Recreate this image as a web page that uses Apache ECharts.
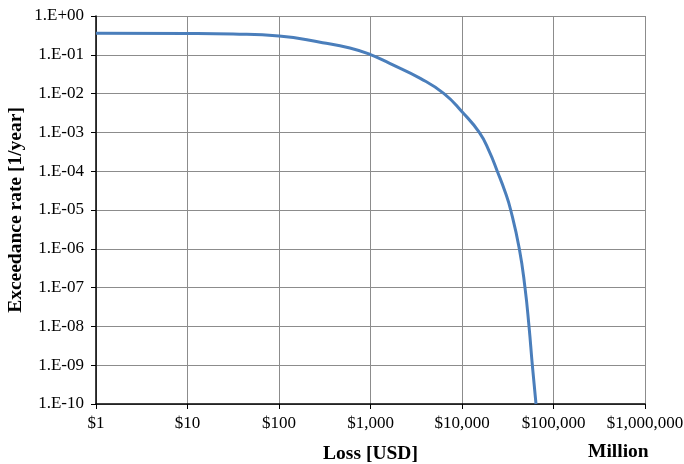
<!DOCTYPE html>
<html>
<head>
<meta charset="utf-8">
<script src="https://cdn.jsdelivr.net/npm/echarts@6/dist/echarts.min.js"></script>
<style>html,body{margin:0;padding:0;background:#fff}#c{width:684px;height:464px}</style>
</head>
<body>
<div id="c"></div>
<script>
var lossUSD = [1, 10, 31.5, 100, 300, 595, 985, 1620, 3500, 6360, 10000, 15450, 19900, 24300, 29500, 34050, 42300, 48800, 54000, 58700, 64400];
var exceedanceRate = [0.358, 0.354, 0.343, 0.305, 0.205, 0.15, 0.103, 0.06, 0.0247, 0.01, 0.0034, 0.001, 3.2e-4, 1e-4, 3e-5, 1e-5, 1e-6, 1e-7, 1e-8, 1e-9, 1e-10];
var xTickLabels = ['$1', '$10', '$100', '$1,000', '$10,000', '$100,000', '$1,000,000'];
var yTickLabels = ['1.E+00', '1.E-01', '1.E-02', '1.E-03', '1.E-04', '1.E-05', '1.E-06', '1.E-07', '1.E-08', '1.E-09', '1.E-10'];

var font = '"Liberation Serif", "Times New Roman", serif';
var chart = echarts.init(document.getElementById('c'));
chart.setOption({
  animation: false,
  grid: { left: 96, right: 39, top: 16, bottom: 60, containLabel: false, outerBoundsMode: 'none' },
  xAxis: {
    type: 'log', logBase: 10, min: 1, max: 1e6, interval: 1, splitNumber: 6,
    name: 'Loss [USD]', nameLocation: 'middle', nameGap: 40, nameMoveOverlap: false,
    nameTextStyle: { fontFamily: font, fontSize: 19.5, fontWeight: 'bold', color: '#000' },
    axisLine: { lineStyle: { color: '#000', width: 1.5 } },
    axisTick: { show: true, length: 5, lineStyle: { color: '#000' } },
    axisLabel: { fontFamily: font, fontSize: 17, color: '#000', margin: 11,
      formatter: function (v) { return xTickLabels[Math.round(Math.log10(v))]; } },
    minorTick: { show: false },
    splitLine: { show: true, lineStyle: { color: '#8c8c8c', width: 1 } }
  },
  yAxis: {
    type: 'log', logBase: 10, min: 1e-10, max: 1, interval: 1, splitNumber: 10,
    name: 'Exceedance rate [1/year]', nameLocation: 'middle', nameGap: 70, nameMoveOverlap: false,
    nameTextStyle: { fontFamily: font, fontSize: 19.5, fontWeight: 'bold', color: '#000' },
    axisLine: { show: true, lineStyle: { color: '#000', width: 1.5 } },
    axisTick: { show: true, length: 5, lineStyle: { color: '#000' } },
    axisLabel: { fontFamily: font, fontSize: 17, color: '#000', margin: 12,
      formatter: function (v) { return yTickLabels[-Math.round(Math.log10(v))]; } },
    splitLine: { show: true, lineStyle: { color: '#8c8c8c', width: 1 } }
  },
  graphic: [{
    type: 'text', left: 588, top: 442,
    style: { text: 'Million', font: 'bold 19.5px ' + font, fill: '#000' }
  }],
  series: [{
    type: 'line',
    data: lossUSD.map(function (x, i) { return [x, exceedanceRate[i]]; }),
    showSymbol: false, smooth: 0.5,
    lineStyle: { color: '#4a7ebb', width: 3 },
    itemStyle: { color: '#4a7ebb' }
  }]
});
</script>
</body>
</html>
